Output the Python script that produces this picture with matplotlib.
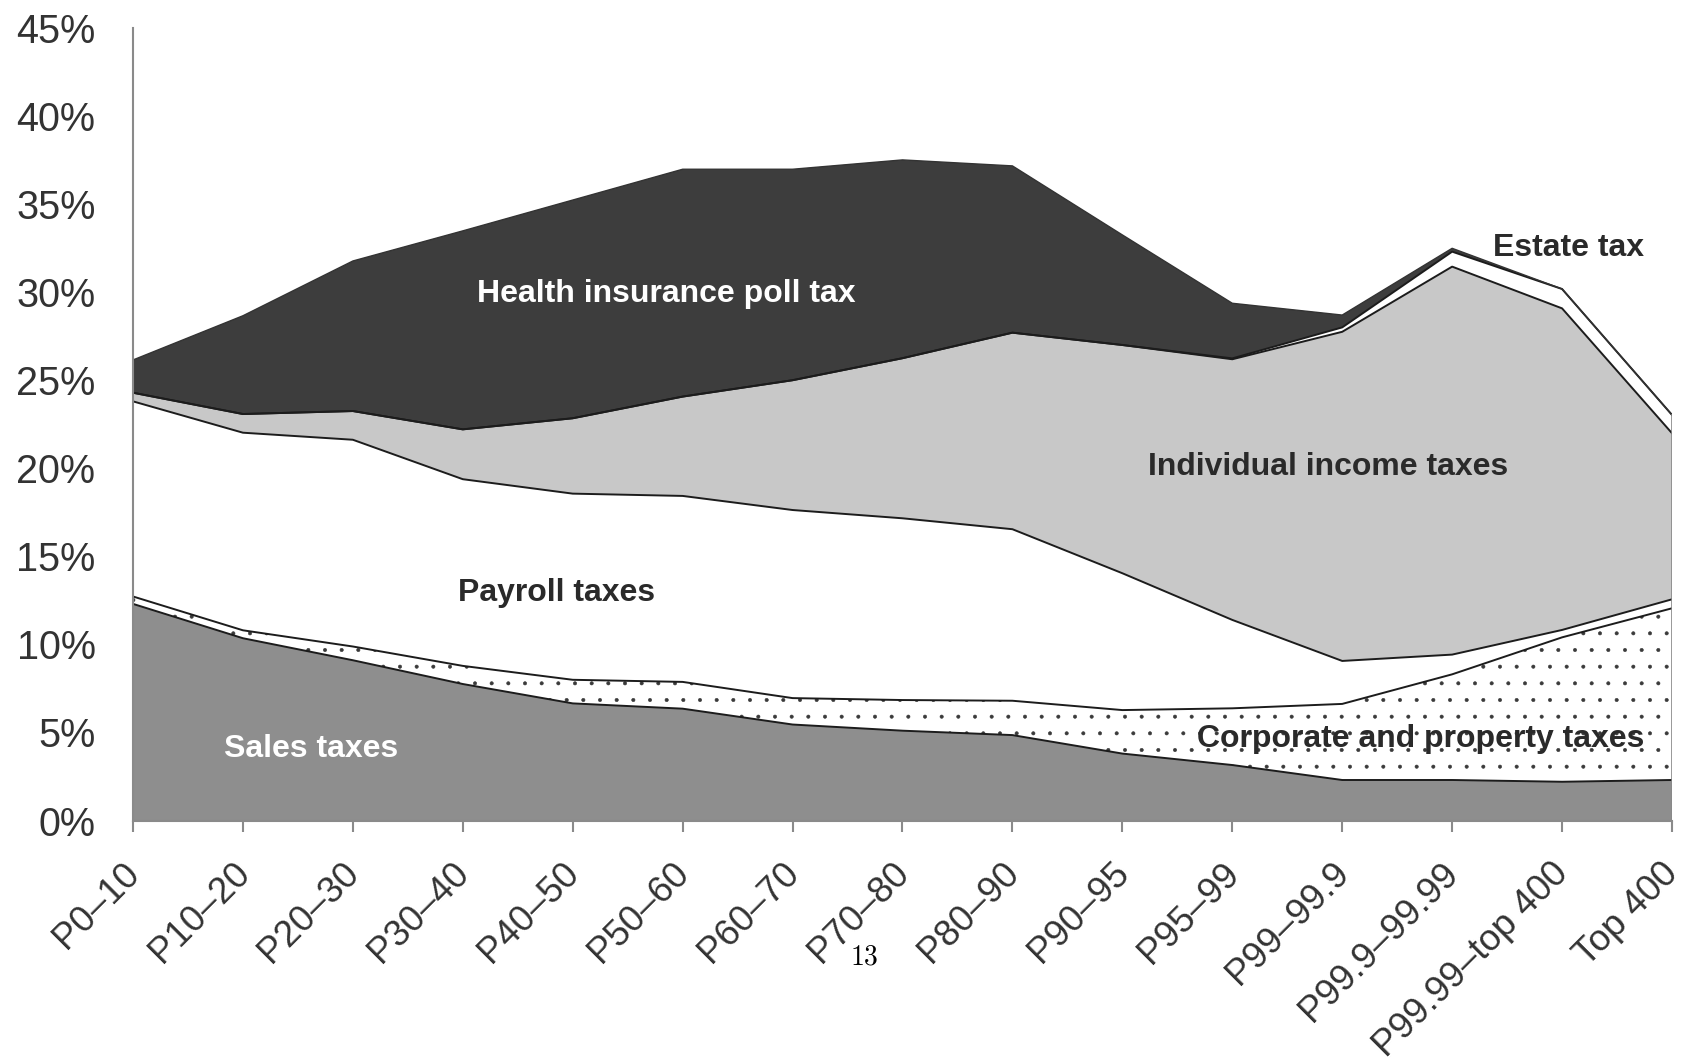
import numpy as np
import matplotlib
matplotlib.use("Agg")
import matplotlib.pyplot as plt
from matplotlib.transforms import ScaledTranslation

categories = ["P0–10", "P10–20", "P20–30", "P30–40", "P40–50", "P50–60",
              "P60–70", "P70–80", "P80–90", "P90–95", "P95–99", "P99–99.9",
              "P99.9–99.99", "P99.99–top 400", "Top 400"]

sales     = [12.30, 10.35, 9.10, 7.75, 6.65, 6.35, 5.45, 5.10, 4.85, 3.80, 3.15, 2.30, 2.30, 2.20, 2.30]
corporate = [0.42, 0.45, 0.78, 1.03, 1.34, 1.52, 1.50, 1.74, 1.95, 2.47, 3.22, 4.32, 6.00, 8.20, 9.75]
payroll   = [11.08, 11.22, 11.74, 10.60, 10.57, 10.56, 10.68, 10.32, 9.74, 7.77, 5.02, 2.44, 1.12, 0.42, 0.51]
income    = [0.49, 1.06, 1.63, 2.83, 4.28, 5.64, 7.37, 9.09, 11.16, 12.96, 14.80, 18.69, 22.03, 18.26, 9.43]
estate    = [0.0, 0.0, 0.0, 0.0, 0.0, 0.0, 0.0, 0.0, 0.0, 0.0, 0.05, 0.25, 0.85, 1.10, 1.04]
health    = [1.86, 5.58, 8.52, 11.27, 12.39, 12.91, 11.98, 11.26, 9.47, 6.25, 3.13, 0.70, 0.19, 0.0, 0.0]

yticks = [0, 5, 10, 15, 20, 25, 30, 35, 40, 45]

plt.rcParams['font.family'] = ['Liberation Sans', 'DejaVu Sans']
plt.rcParams['hatch.linewidth'] = 0.4

fig = plt.figure(figsize=(16.84, 10.64), dpi=100)
ax = fig.add_axes([133/1684, 1 - 820.5/1064, (1672 - 133)/1684, (820.5 - 28)/1064])

x = np.arange(len(categories))
layers = [sales, corporate, payroll, income, estate, health]
faces = ['#8e8e8e', 'white', 'white', '#c8c8c8', 'white', '#3d3d3d']
cum = np.cumsum(np.array(layers), axis=0)
lower = np.zeros(len(categories))
for i, (vals, fc) in enumerate(zip(layers, faces)):
    upper = cum[i]
    if i == 1:
        ax.fill_between(x, lower, upper, facecolor='white', edgecolor='#3a3a3a',
                        hatch='.', linewidth=0, zorder=1)
    else:
        ax.fill_between(x, lower, upper, facecolor=fc, edgecolor='none',
                        linewidth=0, zorder=1)
    lower = upper

# boundary lines
for i in range(len(layers) - 1):
    ax.plot(x, cum[i], color='#1c1c1c', lw=1.4, zorder=3, solid_joinstyle='round')
ax.plot(x, cum[-1], color='#333333', lw=1.0, zorder=3)
ax.plot([x[-1], x[-1]], [0, cum[-1][-1]], color='#888888', lw=1.2, zorder=3)

ax.set_xlim(0, len(categories) - 1)
ax.set_ylim(0, 45)
ax.set_yticks(yticks)
ax.set_yticklabels([f"{t}%" for t in yticks], fontsize=28.5, color='#333333')
ax.tick_params(axis='y', length=0, pad=27)
ax.set_xticks(x)
ax.set_xticklabels(categories, fontsize=26.5, color='#333333', rotation=45,
                   ha='right', va='baseline', rotation_mode='anchor')
ax.tick_params(axis='x', length=7.7, width=1.5, color='#8a8a8a', pad=31.5)
offset = ScaledTranslation(8/100, 0, fig.dpi_scale_trans)
for lbl in ax.get_xticklabels():
    lbl.set_transform(lbl.get_transform() + offset)

for s in ['top', 'right']:
    ax.spines[s].set_visible(False)
for s in ['left', 'bottom']:
    ax.spines[s].set_color('#8a8a8a')
    ax.spines[s].set_linewidth(1.5)
    ax.spines[s].set_zorder(4)

lab = dict(fontsize=23, fontweight='bold', ha='center', va='center', zorder=5)
ax.text(4.85, 29.9, "Health insurance poll tax", color='white', **lab)
ax.text(10.87, 20.06, "Individual income taxes", color='#2a2a2a', **lab)
ax.text(3.85, 12.93, "Payroll taxes", color='#2a2a2a', **lab)
ax.text(1.62, 4.08, "Sales taxes", color='white', **lab)
ax.text(11.71, 4.63, "Corporate and property taxes", color='#2a2a2a', **lab)
ax.text(13.06, 32.5, "Estate tax", color='#2a2a2a', **lab)

fig.text(864.6/1684, 1 - 957/1064, "13", fontsize=20, family='cmr10',
         ha='center', va='center', color='black')

fig.savefig("out.png", dpi=100, facecolor='white')
